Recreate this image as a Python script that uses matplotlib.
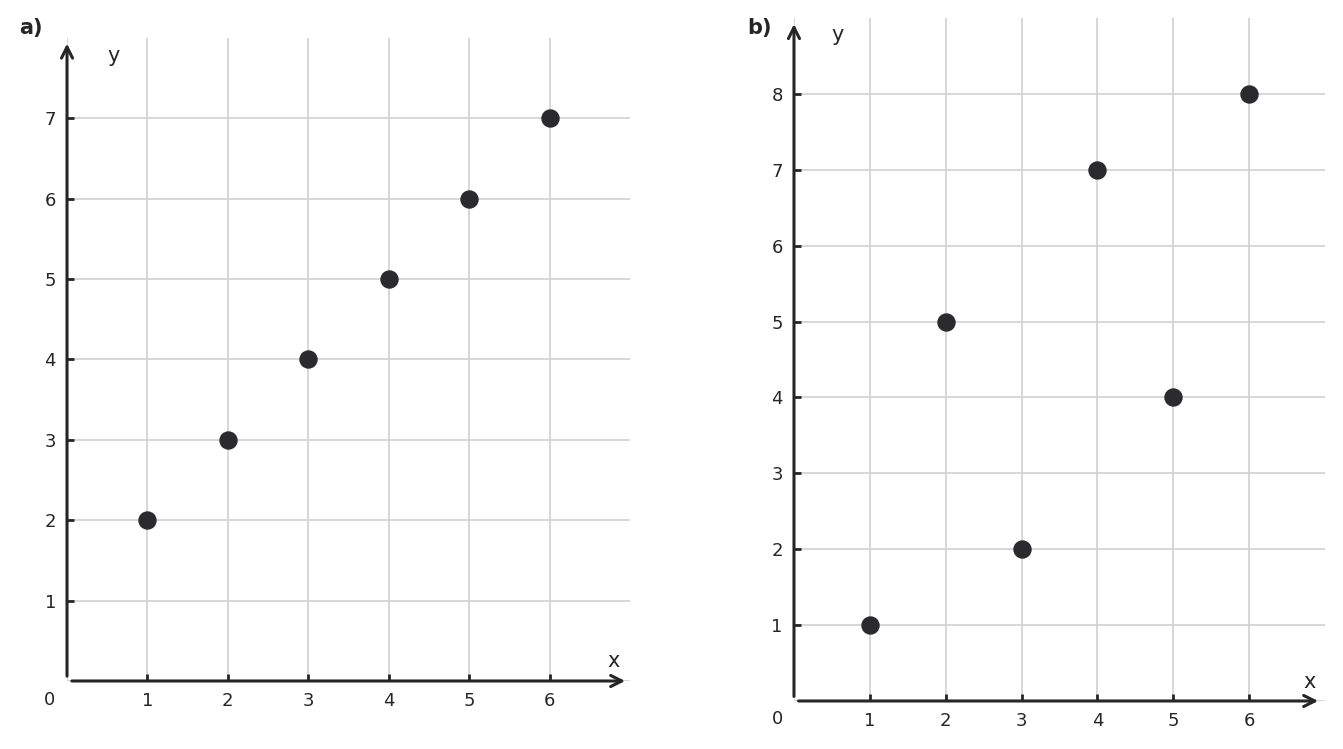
import matplotlib.pyplot as plt
import numpy as np

# panel a
xa = [1, 2, 3, 4, 5, 6]
ya = [2, 3, 4, 5, 6, 7]
# panel b
xb = [1, 2, 3, 4, 5, 6]
yb = [1, 5, 2, 7, 4, 8]

ink = '#262626'
dot = '#2b2b2e'
gridc = '#d4d4d4'

fig = plt.figure(figsize=(13.43, 7.49), dpi=100)
fig.set_facecolor('w')

ax_a = fig.add_axes([0.0499, 0.0908, 0.4192, 0.8585])
ax_b = fig.add_axes([0.5912, 0.0641, 0.3954, 0.9119])


def draw_panel(ax, x, y, ymax, arrow_x, arrow_y):
    ax.set_xlim(0, 7)
    ax.set_ylim(0, ymax)
    for s in ax.spines.values():
        s.set_visible(False)
    ax.set_xticks(range(1, 7), [str(v) for v in range(1, 7)])
    ax.set_yticks(range(1, ymax), [str(v) for v in range(1, ymax)])
    ax.grid(True, color=gridc, linewidth=1.3, zorder=0)
    ax.set_axisbelow(True)
    # faint grid at 0 behind the axes
    ax.axvline(0, color=gridc, lw=1.3, zorder=0)
    ax.axhline(0, color=gridc, lw=1.3, zorder=0)
    ax.tick_params(direction='in', length=5, width=2, color=ink,
                   labelsize=13, labelcolor=ink, pad=8)

    # axes with arrow heads
    ax.annotate('', xy=(arrow_x, 0), xytext=(0.06, 0),
                arrowprops=dict(arrowstyle='->', lw=2.2, color=ink,
                                mutation_scale=20, shrinkA=0, shrinkB=0),
                annotation_clip=False)
    ax.annotate('', xy=(0, arrow_y), xytext=(0, 0.06),
                arrowprops=dict(arrowstyle='->', lw=2.2, color=ink,
                                mutation_scale=20, shrinkA=0, shrinkB=0),
                annotation_clip=False)

    ax.scatter(x, y, s=150, color=dot, zorder=5, clip_on=False)

    ax.text(6.8, 0.12, 'x', fontsize=15, color=ink, ha='center', va='bottom')
    ax.text(0.58, ymax - 0.22, 'y', fontsize=15, color=ink, ha='center', va='center')
    ax.text(-0.22, -0.24, '0', fontsize=13, color=ink, ha='center', va='center',
            clip_on=False)


draw_panel(ax_a, xa, ya, 8, 6.94, 7.93)
draw_panel(ax_b, xb, yb, 9, 6.91, 8.92)

fig.text(31 / 1343, 1 - 28 / 749, 'a)', fontsize=15, fontweight='bold',
         color=ink, ha='center', va='center')
fig.text(759 / 1343, 1 - 28 / 749, 'b)', fontsize=15, fontweight='bold',
         color=ink, ha='center', va='center')

fig.savefig('out.png', dpi=100)
